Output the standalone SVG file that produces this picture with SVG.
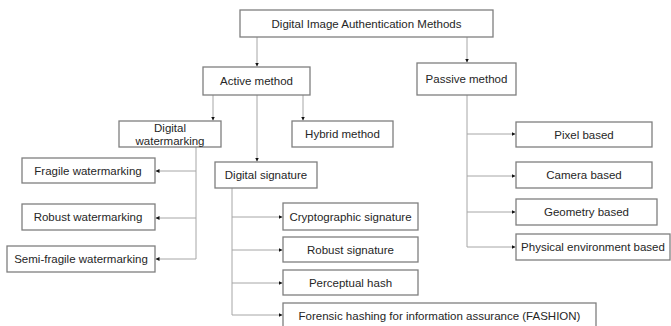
<svg xmlns="http://www.w3.org/2000/svg" width="671" height="326" viewBox="0 0 671 326">
<defs>
<style>
.box{fill:#fff;stroke:#7f7f7f;stroke-width:1.3}
.t{font-family:"Liberation Sans",Arial,sans-serif;font-size:11.5px;fill:#262626;text-anchor:middle;dominant-baseline:central}
.c{fill:none;stroke:#a6a6a6;stroke-width:1}
</style>
<marker id="ah" viewBox="0 0 6 6" refX="6" refY="3" markerWidth="4" markerHeight="4" orient="auto" markerUnits="userSpaceOnUse">
<path d="M0,0 L6,3 L0,6 z" fill="#111"/>
</marker>
</defs>
<rect width="671" height="326" fill="#fff"/>
<g id="connectors">
<path class="c" d="M257,37 V66.5" marker-end="url(#ah)"/>
<path class="c" d="M467,37 V62.5" marker-end="url(#ah)"/>
<path class="c" d="M213,95 V120.5" marker-end="url(#ah)"/>
<path class="c" d="M257,95 V161.5" marker-end="url(#ah)"/>
<path class="c" d="M303,95 V120.5" marker-end="url(#ah)"/>
<path class="c" d="M196,147 V259 H155.5" marker-end="url(#ah)"/>
<path class="c" d="M196,171 H155.5" marker-end="url(#ah)"/>
<path class="c" d="M196,218 H155.5" marker-end="url(#ah)"/>
<path class="c" d="M232,188 V315 H282.5" marker-end="url(#ah)"/>
<path class="c" d="M232,217 H282.5" marker-end="url(#ah)"/>
<path class="c" d="M232,250 H282.5" marker-end="url(#ah)"/>
<path class="c" d="M232,283 H282.5" marker-end="url(#ah)"/>
<path class="c" d="M467,95 V247 H515.5" marker-end="url(#ah)"/>
<path class="c" d="M467,134 H515.5" marker-end="url(#ah)"/>
<path class="c" d="M467,176 H515.5" marker-end="url(#ah)"/>
<path class="c" d="M467,212 H515.5" marker-end="url(#ah)"/>
</g>
<g id="root"><rect class="box" x="240" y="10" width="253" height="27"/><text class="t" x="366.5" y="23.5">Digital Image Authentication Methods</text></g>
<g id="active"><rect class="box" x="203" y="67" width="107" height="28"/><text class="t" x="256.5" y="81">Active method</text></g>
<g id="passive"><rect class="box" x="417" y="63" width="99" height="32"/><text class="t" x="466.5" y="79">Passive method</text></g>
<g id="digital-watermarking"><rect class="box" x="119" y="121" width="102" height="26"/><text class="t" x="170" y="127.5">Digital</text><text class="t" x="170" y="140.5">watermarking</text></g>
<g id="hybrid"><rect class="box" x="292" y="121" width="101" height="26"/><text class="t" x="342.5" y="134">Hybrid method</text></g>
<g id="digital-signature"><rect class="box" x="215" y="162" width="102" height="26"/><text class="t" x="266" y="175">Digital signature</text></g>
<g id="fragile"><rect class="box" x="22" y="158" width="133" height="25"/><text class="t" x="88" y="170.5">Fragile watermarking</text></g>
<g id="robust-wm"><rect class="box" x="22" y="204" width="133" height="26"/><text class="t" x="88" y="217">Robust watermarking</text></g>
<g id="semi-fragile"><rect class="box" x="7" y="246" width="148" height="26"/><text class="t" x="81" y="259">Semi-fragile watermarking</text></g>
<g id="crypto"><rect class="box" x="283" y="203" width="135" height="27"/><text class="t" x="350.5" y="216.5">Cryptographic signature</text></g>
<g id="robust-sig"><rect class="box" x="283" y="237" width="135" height="25"/><text class="t" x="350.5" y="249.5">Robust signature</text></g>
<g id="perceptual"><rect class="box" x="283" y="270" width="135" height="25"/><text class="t" x="350.5" y="282.5">Perceptual hash</text></g>
<g id="fashion"><rect class="box" x="283" y="303" width="313" height="27"/><text class="t" x="439.5" y="315.5">Forensic hashing for information assurance (FASHION)</text></g>
<g id="pixel"><rect class="box" x="516" y="122" width="136" height="25"/><text class="t" x="584" y="134.5">Pixel based</text></g>
<g id="camera"><rect class="box" x="516" y="162" width="136" height="26"/><text class="t" x="584" y="175">Camera based</text></g>
<g id="geometry"><rect class="box" x="516" y="199" width="141" height="26"/><text class="t" x="586.5" y="212">Geometry based</text></g>
<g id="physical"><rect class="box" x="516" y="234" width="154" height="26"/><text class="t" x="593" y="247">Physical environment based</text></g>
</svg>
